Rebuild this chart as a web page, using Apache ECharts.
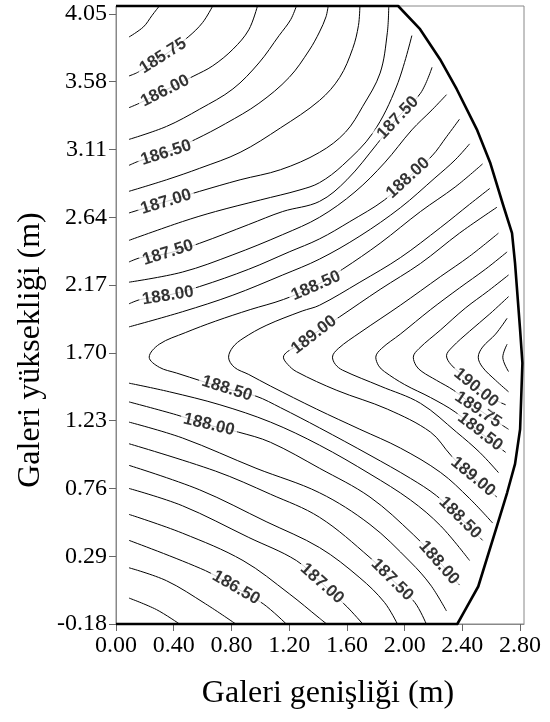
<!DOCTYPE html>
<html>
<head>
<meta charset="utf-8">
<script src="https://cdn.jsdelivr.net/npm/echarts@6/dist/echarts.min.js"></script>
<style>
    html, body { margin: 0; padding: 0; background: #fff; }
    #chart { width: 550px; height: 722px; }
</style>
</head>
<body>
<div id="chart"></div>
<script>
    // tick labels
    var xTicks = [0, 0.4, 0.8, 1.2, 1.6, 2.0, 2.4, 2.8];
    var yTicks = [-0.18, 0.29, 0.76, 1.23, 1.70, 2.17, 2.64, 3.11, 3.58, 4.05];

    // contour lines, [x (m), y (m)]
    // upper family: left edge -> top edge / rim
    var c18550 = [[0.09,3.89],[0.19,3.96],[0.25,4.04],[0.30,4.105]];
    var c18575 = [[0.09,3.62],[0.15,3.645],[0.33,3.76],[0.50,3.89],[0.60,3.99],[0.67,4.105]];
    var c18600 = [[0.09,3.40],[0.16,3.43],[0.34,3.52],[0.54,3.62],[0.67,3.69],[0.81,3.805],[0.92,3.94],[0.98,4.105]];
    var c18625 = [[0.09,3.18],[0.35,3.27],[0.58,3.39],[0.81,3.53],[0.99,3.71],[1.13,3.90],[1.21,4.01],[1.25,4.105]];
    var c18650 = [[0.09,3.00],[0.16,3.03],[0.35,3.09],[0.55,3.18],[0.76,3.29],[0.99,3.43],[1.20,3.61],[1.34,3.80],[1.41,3.925],[1.455,4.03],[1.47,4.105]];
    var c18675 = [[0.09,2.82],[0.35,2.90],[0.58,2.98],[0.86,3.09],[1.14,3.26],[1.41,3.45],[1.55,3.61],[1.64,3.81],[1.68,3.97],[1.69,4.105]];
    var c18700 = [[0.09,2.67],[0.35,2.75],[0.58,2.82],[0.86,2.90],[1.14,2.97],[1.41,3.09],[1.59,3.23],[1.71,3.41],[1.83,3.64],[1.88,3.92],[1.89,4.105]];
    var c18725 = [[0.09,2.48],[0.46,2.61],[0.69,2.68],[1.00,2.76],[1.275,2.83],[1.41,2.88],[1.57,3.00],[1.78,3.225],[1.945,3.55],[2.05,3.90]];
    var c18750 = [[0.09,2.33],[0.17,2.36],[0.36,2.39],[0.58,2.46],[0.92,2.59],[1.155,2.68],[1.41,2.75],[1.60,2.90],[1.81,3.15],[1.95,3.33],[2.11,3.50],[2.19,3.68]];
    var c18775 = [[0.09,2.19],[0.46,2.26],[0.81,2.38],[1.155,2.52],[1.41,2.64],[1.656,2.816],[1.86,3.017],[2.05,3.246],[2.19,3.385],[2.29,3.49]];
    var c18800 = [[0.09,2.04],[0.17,2.07],[0.36,2.10],[0.58,2.16],[0.92,2.28],[1.20,2.40],[1.41,2.49],[1.62,2.61],[1.86,2.76],[2.02,2.91],[2.19,3.066],[2.29,3.198],[2.38,3.32]];
    var c18825 = [[0.09,1.88],[0.46,1.985],[0.81,2.10],[1.155,2.24],[1.41,2.35],[1.69,2.51],[1.97,2.706],[2.21,2.913],[2.35,3.038],[2.45,3.149]];

    // chevrons opening to the right
    var v18850 = [[2.54,3.01],[2.35,2.85],[2.11,2.68],[1.83,2.46],[1.57,2.28],[1.39,2.17],[1.16,2.07],[0.93,2.00],[0.69,1.92],[0.48,1.84],[0.30,1.76],[0.23,1.67],[0.30,1.60],[0.42,1.56],[0.77,1.45],[0.97,1.40],[1.14,1.32],[1.41,1.18],[1.76,0.99],[2.04,0.83],[2.22,0.71],[2.38,0.56],[2.54,0.40]];
    var v18875 = [[2.59,2.84],[2.45,2.73],[2.25,2.57],[1.97,2.36],[1.69,2.19],[1.41,2.03],[1.29,1.99],[1.04,1.89],[0.88,1.80],[0.81,1.74],[0.78,1.67],[0.82,1.60],[0.92,1.55],[1.07,1.47],[1.39,1.31],[1.69,1.17],[1.97,1.04],[2.25,0.87],[2.45,0.69],[2.61,0.52]];
    var v18900 = [[2.64,2.71],[2.38,2.53],[2.11,2.32],[1.83,2.14],[1.55,1.95],[1.37,1.83],[1.28,1.76],[1.19,1.71],[1.16,1.67],[1.19,1.62],[1.25,1.57],[1.53,1.44],[1.88,1.31],[2.18,1.15],[2.32,0.99],[2.47,0.84],[2.64,0.70]];
    var v18925 = [[2.65,2.53],[2.45,2.37],[2.25,2.23],[1.97,2.03],[1.69,1.84],[1.54,1.73],[1.50,1.67],[1.52,1.62],[1.57,1.58],[1.83,1.47],[2.11,1.35],[2.36,1.15],[2.52,1.01],[2.65,0.87]];
    var v18950 = [[2.71,2.40],[2.56,2.28],[2.38,2.15],[2.18,2.00],[1.97,1.83],[1.84,1.73],[1.80,1.67],[1.82,1.61],[1.86,1.57],[2.00,1.48],[2.18,1.39],[2.35,1.29],[2.52,1.15],[2.70,1.01]];
    var v18975 = [[2.72,2.24],[2.58,2.13],[2.42,2.01],[2.25,1.86],[2.10,1.73],[2.06,1.67],[2.08,1.61],[2.12,1.57],[2.22,1.51],[2.34,1.44],[2.51,1.31],[2.72,1.17]];
    var v19000 = [[2.72,2.09],[2.59,1.97],[2.45,1.85],[2.33,1.74],[2.29,1.68],[2.32,1.62],[2.42,1.53],[2.58,1.40],[2.70,1.34]];
    var v19025 = [[2.71,1.94],[2.63,1.83],[2.54,1.74],[2.51,1.67],[2.54,1.60],[2.63,1.51],[2.72,1.43]];
    var v19050 = [[2.71,1.76],[2.68,1.67],[2.72,1.57]];

    // lower family: left edge -> bottom edge / rim
    var c18825L = [[0.09,1.49],[0.37,1.43],[0.72,1.34],[1.07,1.22],[1.41,1.06],[1.76,0.86],[2.04,0.68],[2.25,0.50],[2.45,0.26]];
    var c18800L = [[0.09,1.36],[0.42,1.27],[0.64,1.20],[0.85,1.15],[1.07,1.08],[1.41,0.90],[1.76,0.70],[2.06,0.44],[2.24,0.25],[2.38,0.09]];
    var c18775L = [[0.09,1.22],[0.46,1.11],[0.97,0.90],[1.41,0.73],[1.76,0.51],[2.04,0.25],[2.18,0.09],[2.29,-0.09]];
    var c18750L = [[0.09,1.07],[0.69,0.88],[1.07,0.72],[1.41,0.56],[1.76,0.28],[1.91,0.13],[2.07,-0.03],[2.15,-0.18]];
    var c18725L = [[0.09,0.92],[0.58,0.75],[1.04,0.53],[1.41,0.35],[1.69,0.14],[1.86,-0.03],[1.95,-0.18]];
    var c18700L = [[0.09,0.76],[0.46,0.64],[0.92,0.42],[1.25,0.26],[1.43,0.10],[1.60,-0.06],[1.71,-0.18]];
    var c18675L = [[0.09,0.58],[0.46,0.45],[0.88,0.26],[1.20,0.03],[1.41,-0.14],[1.46,-0.18]];
    var c18650L = [[0.09,0.40],[0.62,0.19],[0.83,0.07],[1.02,-0.04],[1.18,-0.18]];
    var c18625L = [[0.09,0.21],[0.35,0.12],[0.62,-0.04],[0.83,-0.18]];
    var c18600L = [[0.09,0.00],[0.28,-0.08],[0.44,-0.18]];

    // gallery outline (thick)
    var rim = [[0,4.105],[1.955,4.105],[2.107,3.944],[2.245,3.736],[2.361,3.528],[2.50,3.25],[2.592,3.02],[2.684,2.72],[2.744,2.53],[2.765,2.32],[2.80,1.86],[2.816,1.63],[2.80,1.17],[2.765,0.93],[2.71,0.73],[2.64,0.50],[2.51,0.08],[2.41,-0.10],[2.365,-0.18],[0,-0.18]];

    // contour labels: level, x, y
    var labelLevels = [185.75, 186.00, 186.50, 187.00, 187.50, 188.00, 188.50, 189.00, 187.50, 188.00, 188.50, 188.00, 186.50, 187.00, 187.50, 188.00, 188.50, 189.00, 189.50, 189.75, 190.00];
    var labelX = [0.326, 0.340, 0.347, 0.347, 0.360, 0.360, 1.386, 1.372, 1.954, 2.024, 0.769, 0.644, 0.832, 1.428, 1.913, 2.238, 2.384, 2.474, 2.523, 2.509, 2.495];
    var labelY = [3.759, 3.516, 3.087, 2.747, 2.394, 2.096, 2.165, 1.825, 3.33, 2.913, 1.452, 1.202, 0.072, 0.10, 0.127, 0.245, 0.557, 0.841, 1.153, 1.306, 1.458];

    var contours = [
        [185.50, c18550], [185.75, c18575], [186.00, c18600], [186.25, c18625],
        [186.50, c18650], [186.75, c18675], [187.00, c18700], [187.25, c18725],
        [187.50, c18750], [187.75, c18775], [188.00, c18800], [188.25, c18825],
        [188.50, v18850], [188.75, v18875], [189.00, v18900], [189.25, v18925],
        [189.50, v18950], [189.75, v18975], [190.00, v19000], [190.25, v19025],
        [190.50, v19050],
        [188.25, c18825L], [188.00, c18800L], [187.75, c18775L], [187.50, c18750L],
        [187.25, c18725L], [187.00, c18700L], [186.75, c18675L], [186.50, c18650L],
        [186.25, c18625L], [186.00, c18600L]
    ];

    var serif = 'Liberation Serif, Times New Roman, serif';
    var chart = echarts.init(document.getElementById('chart'));

    var series = contours.map(function (c) {
        return {
            type: 'line',
            data: c[1],
            smooth: 0.35,
            symbol: 'none',
            silent: true,
            lineStyle: { color: '#000', width: 1 },
            z: 2
        };
    });
    series.push({
        type: 'line',
        data: rim,
        symbol: 'none',
        silent: true,
        clip: false,
        lineStyle: { color: '#000', width: 2.6, join: 'round' },
        z: 4
    });

    var option = {
        animation: false,
        grid: {
            left: 116, right: 26, top: 6, bottom: 98,
            show: true, borderColor: '#888', borderWidth: 1
        },
        xAxis: {
            type: 'value',
            min: 0, max: 2.827,
            name: 'Galeri genişliği (m)',
            nameLocation: 'middle',
            nameGap: 54,
            nameTextStyle: { fontFamily: serif, fontSize: 32, color: '#000', padding: [0, 0, 0, 16] },
            axisLine: { show: true, onZero: false, lineStyle: { color: '#888', width: 1 } },
            axisTick: { show: true, length: 7, customValues: xTicks, lineStyle: { color: '#666' } },
            axisLabel: {
                customValues: xTicks, margin: 10,
                fontFamily: serif, fontSize: 24, color: '#000',
                formatter: function (v) { return v.toFixed(2); }
            },
            splitLine: { show: false }
        },
        yAxis: {
            type: 'value',
            min: -0.18, max: 4.105,
            name: 'Galeri yüksekliği (m)',
            nameLocation: 'middle',
            nameGap: 68,
            nameTextStyle: { fontFamily: serif, fontSize: 32, color: '#000', padding: [0, 70, 0, 0] },
            axisLine: { show: true, onZero: false, lineStyle: { color: '#888', width: 1 } },
            axisTick: { show: true, length: 7, customValues: yTicks, lineStyle: { color: '#666' } },
            axisLabel: {
                customValues: yTicks, margin: 9,
                fontFamily: serif, fontSize: 24, color: '#000',
                formatter: function (v) { return v.toFixed(2); }
            },
            splitLine: { show: false }
        },
        series: series
    };
    chart.setOption(option);

    // label angle follows the nearest segment of a contour of the same level
    function labelAngle(level, x, y) {
        var p = chart.convertToPixel({ gridIndex: 0 }, [x, y]);
        var best = Infinity, ang = 0;
        contours.forEach(function (c) {
            if (Math.abs(c[0] - level) > 1e-6) return;
            var px = c[1].map(function (q) { return chart.convertToPixel({ gridIndex: 0 }, q); });
            for (var i = 0; i < px.length - 1; i++) {
                var a = px[i], b = px[i + 1];
                var dx = b[0] - a[0], dy = b[1] - a[1];
                var t = ((p[0] - a[0]) * dx + (p[1] - a[1]) * dy) / (dx * dx + dy * dy);
                t = Math.max(0, Math.min(1, t));
                var ex = a[0] + t * dx - p[0], ey = a[1] + t * dy - p[1];
                var d = ex * ex + ey * ey;
                if (d < best) {
                    best = d;
                    ang = -Math.atan2(dy, dx) * 180 / Math.PI;
                }
            }
        });
        if (ang > 90) ang -= 180;
        if (ang < -90) ang += 180;
        return ang;
    }

    var labelData = labelLevels.map(function (lv, i) {
        return {
            value: [labelX[i], labelY[i]],
            name: lv.toFixed(2),
            label: { rotate: labelAngle(lv, labelX[i], labelY[i]) }
        };
    });

    series.push({
        type: 'scatter',
        data: labelData,
        symbolSize: 1,
        silent: true,
        itemStyle: { color: 'rgba(0,0,0,0)' },
        label: {
            show: true,
            position: 'inside',
            formatter: '{b}',
            fontFamily: 'Liberation Sans, Arial, sans-serif',
            fontWeight: 'bold',
            fontSize: 17,
            color: '#000',
            backgroundColor: '#fff',
            padding: [0, 3]
        },
        z: 6
    });
    chart.setOption({ series: series });
</script>
</body>
</html>
